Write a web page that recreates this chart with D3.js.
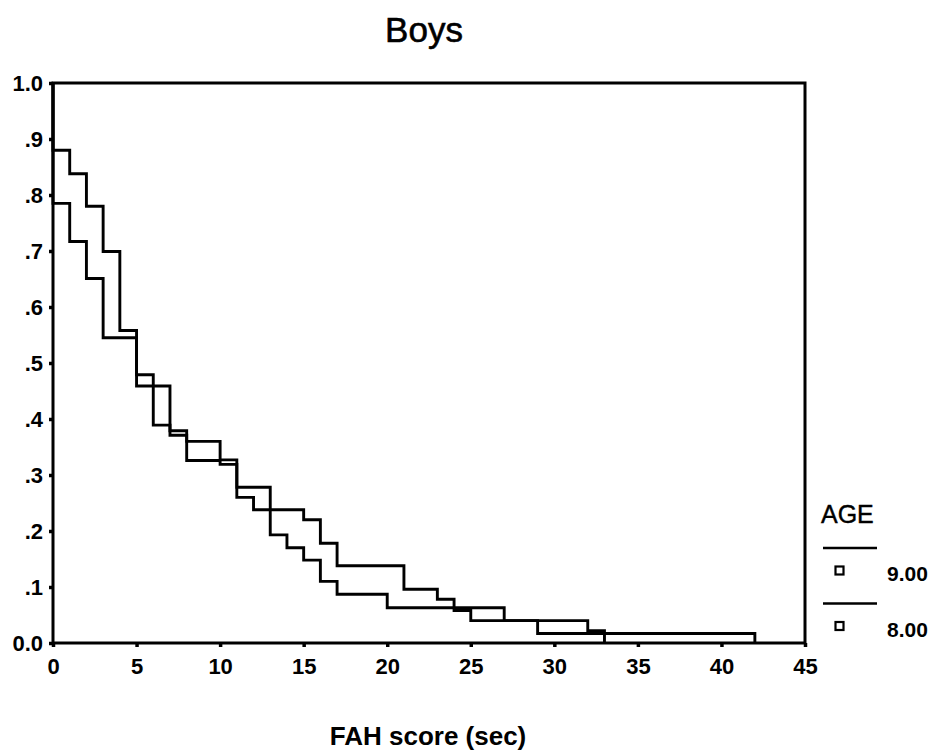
<!DOCTYPE html>
<html lang="en">

<head>
  <meta charset="UTF-8">
  <title>Boys</title>
  <script src="https://d3js.org/d3.v7.min.js"></script>
  <style>
    body { margin: 0; background: #fff; }
    text { font-family: "Liberation Sans", Arial, sans-serif; fill: #000; }
  </style>
</head>

<body>
  <script>
    // age groups shown in the legend
    const ageGroups = ['9.00', '8.00'];

    // step points (time in sec, cumulative survival)
    const times9 = [0, 0, 1, 2, 3, 4, 5, 6, 7, 8, 10, 11, 13, 14, 15, 16, 17, 20, 27, 32, 33];
    const surv9 = [1.0, 0.880, 0.838, 0.780, 0.699, 0.558, 0.479, 0.389, 0.379, 0.360, 0.327, 0.278,
      0.193, 0.170, 0.148, 0.110, 0.087, 0.063, 0.040, 0.022, 0.0];

    const times8 = [0, 0, 1, 2, 3, 5, 7, 8, 10, 11, 12, 15, 16, 17, 21, 23, 24, 25, 29, 42];
    const surv8 = [1.0, 0.785, 0.717, 0.651, 0.545, 0.459, 0.371, 0.326, 0.319, 0.260, 0.238,
      0.220, 0.178, 0.138, 0.096, 0.078, 0.058, 0.040, 0.017, 0.0];

    const xTicks = [0, 5, 10, 15, 20, 25, 30, 35, 40, 45];
    const yTicks = [0, 0.1, 0.2, 0.3, 0.4, 0.5, 0.6, 0.7, 0.8, 0.9, 1.0];

    const w = 935;
    const h = 753;
    const margin = { top: 83, right: 130, bottom: 110, left: 53 };
    const iw = w - margin.left - margin.right;
    const ih = h - margin.top - margin.bottom;

    const xScale = d3.scaleLinear().domain([0, 45]).range([0, iw]);
    const yScale = d3.scaleLinear().domain([0, 1]).range([ih, 0]);

    const svg = d3.select('body')
      .append('svg')
      .attr('width', w)
      .attr('height', h);

    // title
    svg.append('text')
      .attr('x', 424)
      .attr('y', 42)
      .attr('text-anchor', 'middle')
      .style('font-size', '35px')
      .attr('stroke', '#000')
      .attr('stroke-width', 0.6)
      .text('Boys');

    const g = svg.append('g')
      .attr('transform', `translate(${margin.left},${margin.top})`);

    // axes
    const xAxis = d3.axisBottom(xScale)
      .tickValues(xTicks)
      .tickFormat(d => d)
      .tickSize(4)
      .tickSizeOuter(0)
      .tickPadding(11);

    const yAxis = d3.axisLeft(yScale)
      .tickValues(yTicks)
      .tickFormat(d => d === 0 ? '0.0' : d === 1 ? '1.0' : d3.format('.1f')(d).slice(1))
      .tickSize(4)
      .tickSizeOuter(0)
      .tickPadding(6);

    const gx = g.append('g')
      .attr('transform', `translate(0,${ih})`)
      .call(xAxis);

    const gy = g.append('g')
      .call(yAxis);

    [gx, gy].forEach(a => {
      a.select('.domain').remove();
      a.selectAll('.tick line').attr('stroke', '#000').attr('stroke-width', 3.5);
      a.selectAll('.tick text')
        .style('font-family', '"Liberation Sans", Arial, sans-serif')
        .style('font-size', '22px')
        .style('font-weight', 'bold')
        .attr('fill', '#000');
    });

    // plot frame
    g.append('rect')
      .attr('x', 0)
      .attr('y', 0)
      .attr('width', iw)
      .attr('height', ih)
      .attr('fill', 'none')
      .attr('stroke', '#000')
      .attr('stroke-width', 3);

    // survival step lines
    const line = d3.line()
      .x(d => xScale(d[0]))
      .y(d => yScale(d[1]))
      .curve(d3.curveStepAfter);

    const series = [
      d3.zip(times9, surv9),
      d3.zip(times8, surv8)
    ];

    g.selectAll('.km')
      .data(series)
      .enter()
      .append('path')
      .attr('class', 'km')
      .attr('d', line)
      .attr('fill', 'none')
      .attr('stroke', '#000')
      .attr('stroke-width', 2.9);

    // x axis title
    svg.append('text')
      .attr('x', 428)
      .attr('y', 745)
      .attr('text-anchor', 'middle')
      .style('font-size', '26px')
      .style('font-weight', 'bold')
      .text('FAH score (sec)');

    // legend
    const legend = svg.append('g');

    legend.append('text')
      .attr('x', 821)
      .attr('y', 523)
      .style('font-size', '25px')
      .attr('stroke', '#000')
      .attr('stroke-width', 0.4)
      .text('AGE');

    const items = legend.selectAll('.item')
      .data(ageGroups)
      .enter()
      .append('g')
      .attr('class', 'item')
      .attr('transform', (d, i) => `translate(0,${i * 55.5})`);

    items.append('line')
      .attr('x1', 823)
      .attr('x2', 877)
      .attr('y1', 548)
      .attr('y2', 548)
      .attr('stroke', '#000')
      .attr('stroke-width', 2.6);

    items.append('rect')
      .attr('x', 835.5)
      .attr('y', 566.5)
      .attr('width', 8)
      .attr('height', 8)
      .attr('fill', '#fff')
      .attr('stroke', '#000')
      .attr('stroke-width', 2.2);

    items.append('text')
      .attr('x', 887)
      .attr('y', 581)
      .style('font-size', '21px')
      .style('font-weight', 'bold')
      .text(d => d);
  </script>
</body>

</html>
